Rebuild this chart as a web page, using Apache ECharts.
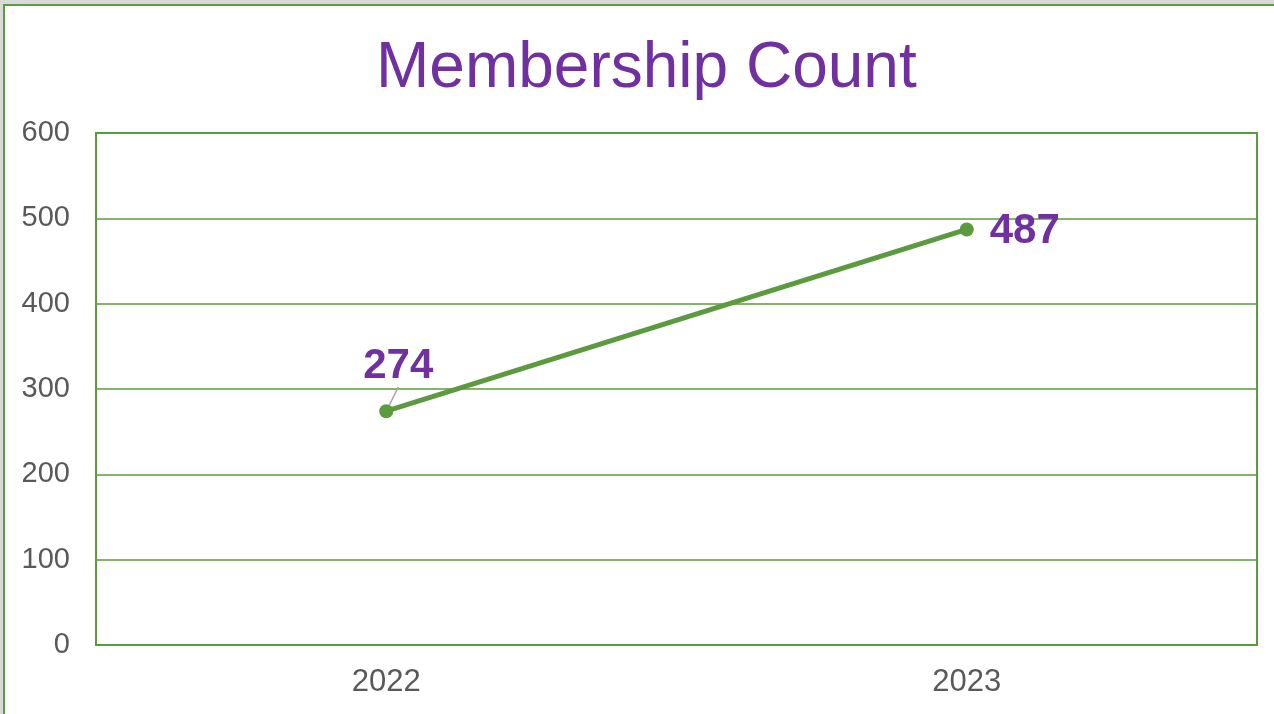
<!DOCTYPE html>
<html>
<head>
<meta charset="utf-8">
<script src="https://cdn.jsdelivr.net/npm/echarts@6/dist/echarts.min.js"></script>
<style>
  html, body { margin:0; padding:0; width:1274px; height:714px; overflow:hidden; background:#d9d9d9; }
  #frame { position:absolute; left:3px; top:4px; width:1290px; height:730px; background:#fff; border:2px solid #5e9b45; box-sizing:border-box; }
  #chart { position:absolute; left:0; top:0; width:1274px; height:714px; }
</style>
</head>
<body>
<div id="frame"></div>
<div id="chart"></div>
<script>
const categories = ['2022', '2023'];
const members = [274, 487];
const yTicks = [0, 100, 200, 300, 400, 500, 600];

const green = '#5b9a3f';
const purple = '#7030a0';
const font = 'Liberation Sans, Arial, sans-serif';
const seriesData = members.map((v, i) => i === 0 ? v : { value: v, labelLine: { show: false } });

const chart = echarts.init(document.getElementById('chart'));
chart.setOption({
  backgroundColor: 'transparent',
  title: {
    text: 'Membership Count',
    left: 371,
    top: 32,
    textStyle: { color: purple, fontSize: 64, fontWeight: 'normal', fontFamily: font }
  },
  grid: { left: 96, right: 17, top: 133, bottom: 69, show: true, borderColor: green, borderWidth: 2 },
  xAxis: {
    type: 'category',
    data: categories,
    boundaryGap: true,
    axisLine: { show: true, lineStyle: { color: green, width: 2 } },
    axisTick: { show: false },
    axisLabel: { color: '#595959', fontSize: 31, margin: 22, fontFamily: font }
  },
  yAxis: {
    type: 'value',
    min: yTicks[0],
    max: yTicks[yTicks.length - 1],
    interval: 100,
    axisLine: { show: false },
    axisTick: { show: false },
    splitLine: { lineStyle: { color: green, width: 1.5 } },
    axisLabel: { color: '#595959', fontSize: 29, margin: 26, fontFamily: font }
  },
  series: [{
    type: 'line',
    data: seriesData,
    symbol: 'circle',
    symbolSize: 14,
    lineStyle: { color: green, width: 5 },
    itemStyle: { color: green },
    label: {
      show: true,
      color: purple,
      fontSize: 42,
      fontWeight: 'bold',
      fontFamily: font,
      position: 'right',
      distance: 16
    },
    labelLine: { show: true, lineStyle: { color: '#a6a6a6', width: 1.5 }, length2: 0 },
    labelLayout: function (p) {
      if (p.dataIndex === 0) {
        return { x: p.rect.x - 10 - p.rect.width / 2 + 1, y: p.rect.y - 59, align: 'left', verticalAlign: 'top' };
      }
      return { dy: 2 };
    }
  }]
});
</script>
</body>
</html>
